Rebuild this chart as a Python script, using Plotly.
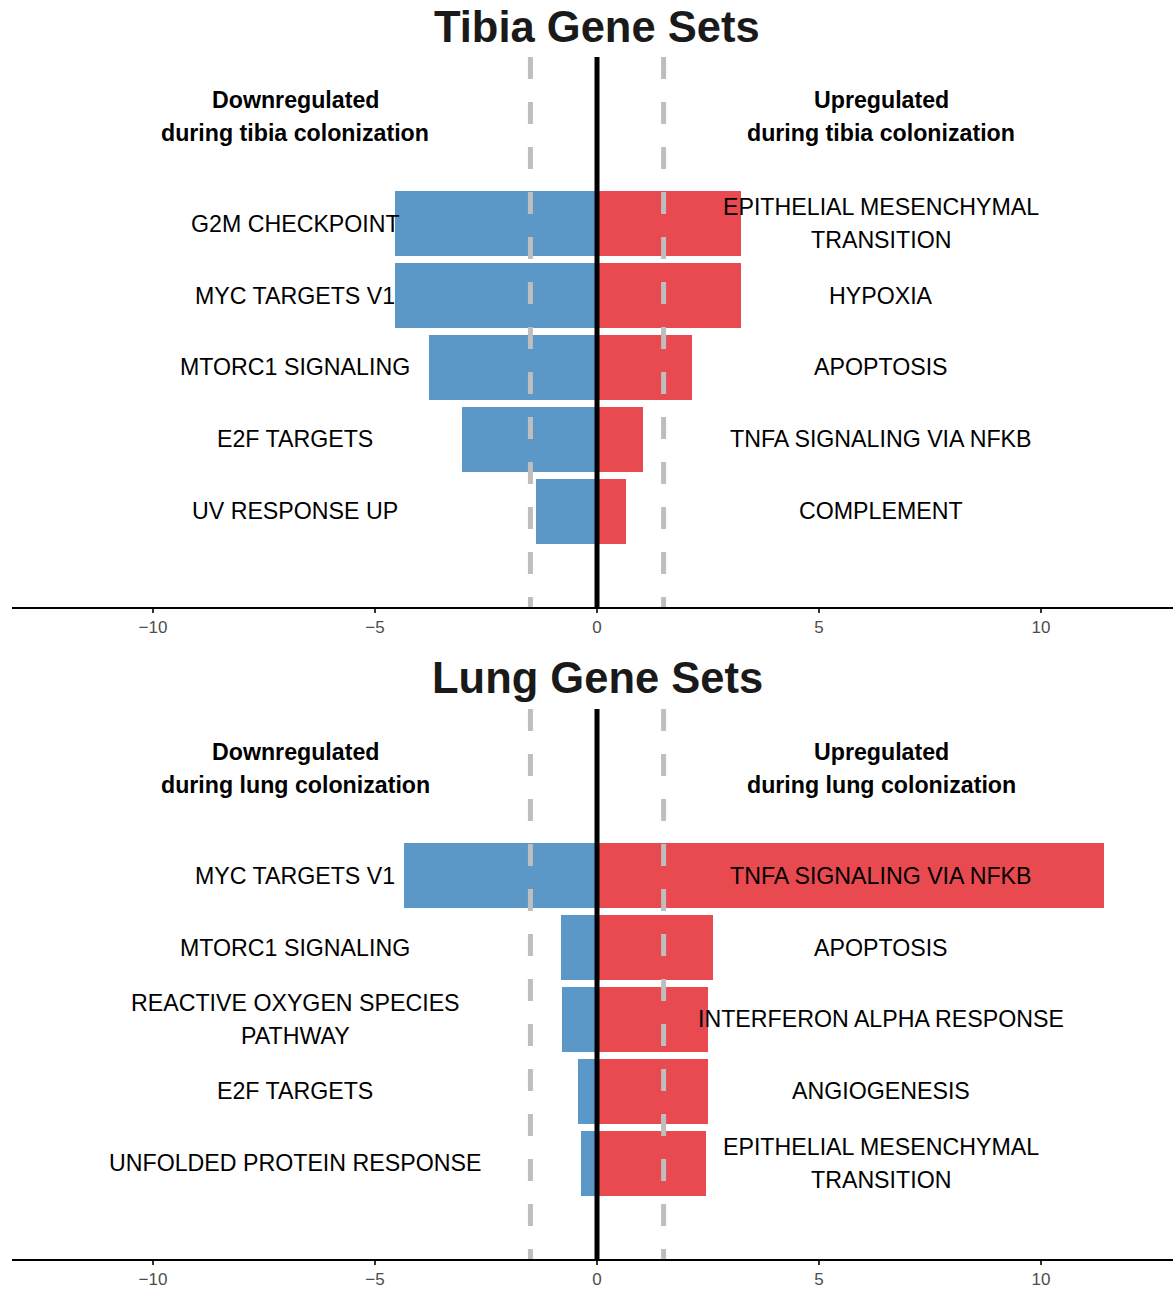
import plotly.graph_objects as go

# ---------------- data ----------------
tibia_down_labels = ["G2M CHECKPOINT", "MYC TARGETS V1", "MTORC1 SIGNALING", "E2F TARGETS", "UV RESPONSE UP"]
tibia_down_values = [-4.55, -4.55, -3.78, -3.04, -1.37]
tibia_up_labels = ["EPITHELIAL MESENCHYMAL<br>TRANSITION", "HYPOXIA", "APOPTOSIS", "TNFA SIGNALING VIA NFKB", "COMPLEMENT"]
tibia_up_values = [3.24, 3.24, 2.14, 1.04, 0.65]

lung_down_labels = ["MYC TARGETS V1", "MTORC1 SIGNALING", "REACTIVE OXYGEN SPECIES<br>PATHWAY", "E2F TARGETS", "UNFOLDED PROTEIN RESPONSE"]
lung_down_values = [-4.35, -0.81, -0.79, -0.43, -0.36]
lung_up_labels = ["TNFA SIGNALING VIA NFKB", "APOPTOSIS", "INTERFERON ALPHA RESPONSE", "ANGIOGENESIS", "EPITHELIAL MESENCHYMAL<br>TRANSITION"]
lung_up_values = [11.42, 2.61, 2.50, 2.50, 2.45]

rank = [5, 4, 3, 2, 1]  # top to bottom
threshold = 1.5
x_ticks = [-10, -5, 0, 5, 10]
x_ticktext = ["\u221210", "\u22125", "0", "5", "10"]

panels = [
    dict(title="Tibia Gene Sets", tissue="tibia",
         down_labels=tibia_down_labels, down_values=tibia_down_values,
         up_labels=tibia_up_labels, up_values=tibia_up_values),
    dict(title="Lung Gene Sets", tissue="lung",
         down_labels=lung_down_labels, down_values=lung_down_values,
         up_labels=lung_up_labels, up_values=lung_up_values),
]

# ---------------- styling ----------------
W, H = 1173, 1289
BLUE = "#5B98C7"
RED = "#E84A50"
FONT = "Liberation Sans, Arial, sans-serif"
xrange_ = [-13.176, 12.973]
yrange_ = [-0.333, 7.32]
ydomains = [[1 - 608 / H, 1 - 57 / H], [1 - 1261 / H, 1 - 710 / H]]
title_y = [1 - 27 / H, 1 - 679 / H]
x_down_label, x_up_label = -6.8, 6.4
header_y = 6.49
LABEL_SIZE = 23.2

fig = go.Figure()
shapes = []
annotations = []

for i, p in enumerate(panels):
    xa = "x" if i == 0 else "x2"
    ya = "y" if i == 0 else "y2"
    fig.add_trace(go.Bar(y=rank, x=p["down_values"], orientation="h", width=0.9,
                         marker=dict(color=BLUE, line=dict(width=0)),
                         xaxis=xa, yaxis=ya, showlegend=False, hoverinfo="x"))
    fig.add_trace(go.Bar(y=rank, x=p["up_values"], orientation="h", width=0.9,
                         marker=dict(color=RED, line=dict(width=0)),
                         xaxis=xa, yaxis=ya, showlegend=False, hoverinfo="x"))

    # reference lines
    for xv in (-threshold, threshold):
        shapes.append(dict(type="line", xref=xa, yref=f"{ya} domain", x0=xv, x1=xv, y0=1, y1=0,
                           line=dict(color="#BEBEBE", width=5, dash="22px,23px"), layer="above"))
    shapes.append(dict(type="line", xref=xa, yref=f"{ya} domain", x0=0, x1=0, y0=0, y1=1,
                       line=dict(color="black", width=5), layer="above"))

    # title
    annotations.append(dict(text=f"<b>{p['title']}</b>", xref="paper", yref="paper",
                            x=597 / W, y=title_y[i], xanchor="center", yanchor="middle",
                            showarrow=False, font=dict(family=FONT, size=43.5, color="#1a1a1a")))

    # headers
    for xv, word in ((x_down_label, "Downregulated"), (x_up_label, "Upregulated")):
        for line, shift in ((word, 16.5), (f"during {p['tissue']} colonization", -16.5)):
            annotations.append(dict(text=f"<b>{line}</b>", xref=xa, yref=ya, x=xv, y=header_y,
                                    yshift=shift, xanchor="center", yanchor="middle",
                                    showarrow=False, font=dict(family=FONT, size=LABEL_SIZE, color="black")))

    # category labels
    for labels, xv in ((p["down_labels"], x_down_label), (p["up_labels"], x_up_label)):
        for lab, yv in zip(labels, rank):
            parts = lab.split("<br>")
            n = len(parts)
            for k, part in enumerate(parts):
                shift = (n - 1) / 2 * 33 - k * 33
                annotations.append(dict(text=part, xref=xa, yref=ya, x=xv, y=yv, yshift=shift,
                                        xanchor="center", yanchor="middle", showarrow=False,
                                        font=dict(family=FONT, size=LABEL_SIZE, color="black")))

axis_common = dict(range=xrange_, domain=[12 / W, 1], showgrid=False, zeroline=False,
                   showline=True, linecolor="black", linewidth=2, ticks="outside", ticklen=4,
                   tickwidth=2, tickcolor="#333333", tickvals=x_ticks, ticktext=x_ticktext,
                   tickfont=dict(family=FONT, size=17, color="#4D4D4D"), fixedrange=True)
yaxis_common = dict(range=yrange_, showgrid=False, zeroline=False, showline=False,
                    showticklabels=False, ticks="", fixedrange=True)

fig.update_layout(
    width=W, height=H, margin=dict(l=0, r=0, t=0, b=0),
    paper_bgcolor="white", plot_bgcolor="white",
    barmode="overlay", bargap=0,
    xaxis=dict(**axis_common, anchor="y"),
    yaxis=dict(**yaxis_common, domain=ydomains[0], anchor="x"),
    xaxis2=dict(**axis_common, anchor="y2"),
    yaxis2=dict(**yaxis_common, domain=ydomains[1], anchor="x2"),
    shapes=shapes, annotations=annotations,
    font=dict(family=FONT),
)

fig.write_html("out.html", config={"displayModeBar": False},
               post_script="document.body.style.margin='0';document.body.style.overflow='hidden';")
